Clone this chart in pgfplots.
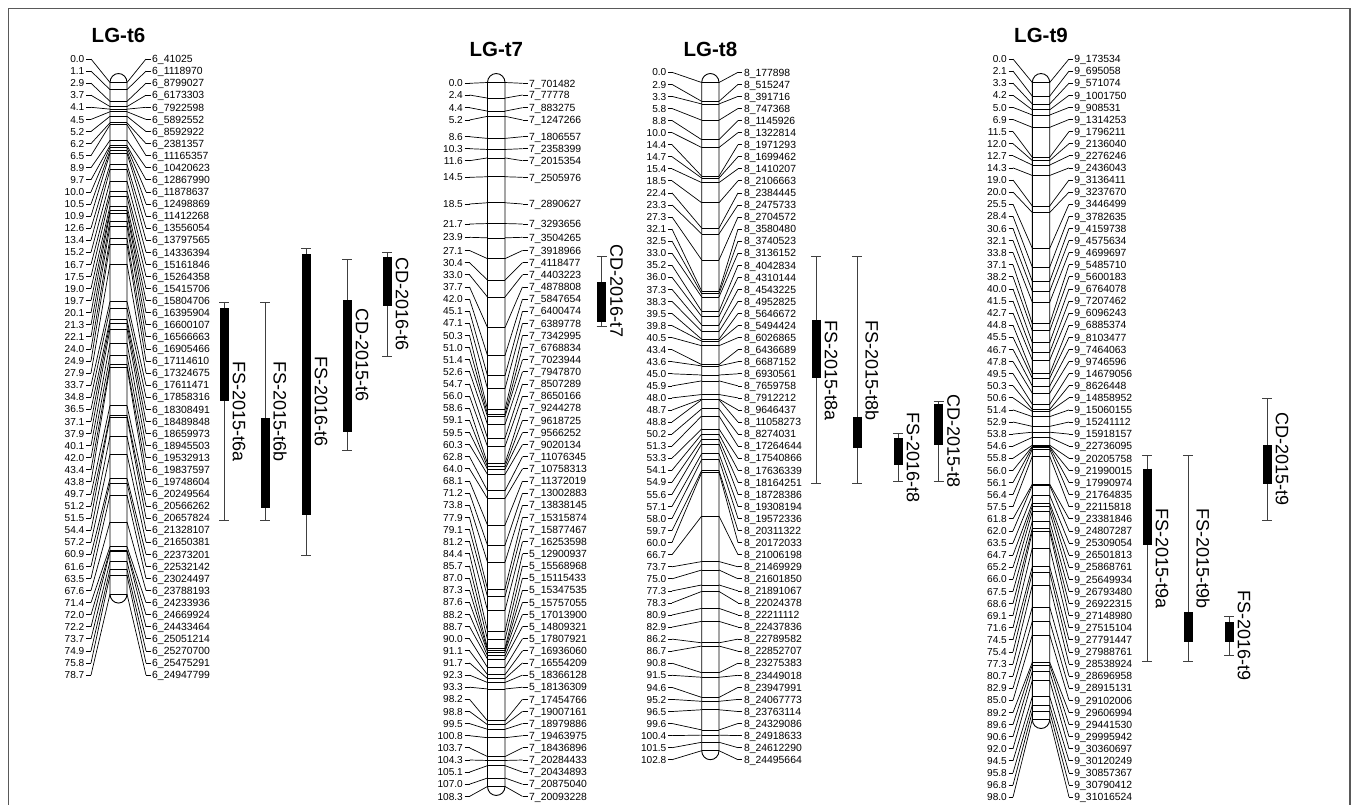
\documentclass[border=0pt]{standalone}
\usepackage{fontspec}
\setmainfont{Liberation Sans}
\usepackage{pgfplots}
\usepackage{pgfplotstable}
\pgfplotsset{compat=1.18}

% columns: cM = map position, ly = label row position (px from top), name = marker
\pgfplotstableread{
cM ly name
0.0 59.0 6\_41025
1.1 71.1 6\_1118970
2.9 83.2 6\_8799027
3.7 95.2 6\_6173303
4.1 107.3 6\_7922598
4.5 119.4 6\_5892552
5.2 131.5 6\_8592922
6.2 143.6 6\_2381357
6.5 155.6 6\_11165357
8.9 167.7 6\_10420623
9.7 179.8 6\_12867990
10.0 191.9 6\_11878637
10.5 204.0 6\_12498869
10.9 216.0 6\_11412268
12.6 228.1 6\_13556054
13.4 240.2 6\_13797565
15.2 252.3 6\_14336394
16.7 264.4 6\_15161846
17.5 276.4 6\_15264358
19.0 288.5 6\_15415706
19.7 300.6 6\_15804706
20.1 312.7 6\_16395904
21.3 324.8 6\_16600107
22.1 336.8 6\_16566663
24.0 348.9 6\_16905466
24.9 361.0 6\_17114610
27.9 373.1 6\_17324675
33.7 385.2 6\_17611471
34.8 397.2 6\_17858316
36.5 409.3 6\_18308491
37.1 421.4 6\_18489848
37.9 433.5 6\_18659973
40.1 445.6 6\_18945503
42.0 457.6 6\_19532913
43.4 469.7 6\_19837597
43.8 481.8 6\_19748604
49.7 493.9 6\_20249564
51.2 506.0 6\_20566262
51.5 518.0 6\_20657824
54.4 530.1 6\_21328107
57.2 542.2 6\_21650381
60.9 554.3 6\_22373201
61.6 566.4 6\_22532142
63.5 578.4 6\_23024497
67.6 590.5 6\_23788193
71.4 602.6 6\_24233936
72.0 614.7 6\_24669924
72.2 626.8 6\_24433464
73.7 638.8 6\_25051214
74.9 650.9 6\_25270700
75.8 663.0 6\_25475291
78.7 675.1 6\_24947799
}\tsix

\pgfplotstableread{
cM ly name
0.0 83.3 7\_701482
2.4 95.0 7\_77778
4.4 107.7 7\_883275
5.2 120.0 7\_1247266
8.6 136.7 7\_1806557
10.3 148.7 7\_2358399
11.6 160.7 7\_2015354
14.5 177.3 7\_2505976
18.5 204.0 7\_2890627
21.7 224.0 7\_3293656
23.9 237.3 7\_3504265
27.1 250.5 7\_3918966
30.4 262.6 7\_4118477
33.0 274.8 7\_4403223
37.7 286.9 7\_4878808
42.0 299.0 7\_5847654
45.1 311.2 7\_6400474
47.1 323.3 7\_6389778
50.3 335.4 7\_7342995
51.0 347.5 7\_6768834
51.4 359.7 7\_7023944
52.6 371.8 7\_7947870
54.7 383.9 7\_8507289
56.0 396.1 7\_8650166
58.6 408.2 7\_9244278
59.1 420.3 7\_9618725
59.5 432.5 7\_9566252
60.3 444.6 7\_9020134
62.8 456.7 7\_11076345
64.0 468.8 7\_10758313
68.1 481.0 7\_11372019
71.2 493.1 7\_13002883
73.8 505.2 7\_13838145
77.9 517.4 7\_15315874
79.1 529.5 7\_15877467
81.2 541.6 7\_16253598
84.4 553.8 5\_12900937
85.7 565.9 5\_15568968
87.0 578.0 5\_15115433
87.3 590.1 5\_15347535
87.6 602.3 5\_15757055
88.2 614.4 5\_17013900
88.7 626.5 5\_14809321
90.0 638.7 5\_17807921
91.1 650.8 7\_16936060
91.7 662.9 7\_16554209
92.3 675.1 5\_18366128
93.3 687.2 5\_18136309
98.2 699.3 7\_17454766
98.8 711.4 7\_19007161
99.5 723.6 7\_18979886
100.8 735.7 7\_19463975
103.7 747.8 7\_18436896
104.3 760.0 7\_20284433
105.1 772.1 7\_20434893
107.0 784.2 7\_20875040
108.3 796.4 7\_20093228
}\tseven

\pgfplotstableread{
cM ly name
0.0 72.3 8\_177898
2.9 84.4 8\_515247
3.3 96.4 8\_391716
5.8 108.5 8\_747368
8.8 120.5 8\_1145926
10.0 132.6 8\_1322814
14.4 144.7 8\_1971293
14.7 156.7 8\_1699462
15.4 168.8 8\_1410207
18.5 180.8 8\_2106663
22.4 192.9 8\_2384445
23.3 205.0 8\_2475733
27.3 217.0 8\_2704572
32.1 229.1 8\_3580480
32.5 241.1 8\_3740523
33.0 253.2 8\_3136152
35.2 265.3 8\_4042834
36.0 277.3 8\_4310144
37.3 289.4 8\_4543225
38.3 301.4 8\_4952825
39.5 313.5 8\_5646672
39.8 325.6 8\_5494424
40.5 337.6 8\_6026865
43.4 349.7 8\_6436689
43.6 361.7 8\_6687152
45.0 373.8 8\_6930561
45.9 385.9 8\_7659758
48.0 397.9 8\_7912212
48.7 410.0 8\_9646437
48.8 422.0 8\_11058273
50.2 434.1 8\_8274031
51.3 446.2 8\_17264644
53.3 458.2 8\_17540866
54.1 470.3 8\_17636339
54.9 482.3 8\_18164251
55.6 494.4 8\_18728386
57.1 506.5 8\_19308194
58.0 518.5 8\_19572336
59.7 530.6 8\_20311322
60.0 542.6 8\_20172033
66.7 554.7 8\_21006198
73.7 566.8 8\_21469929
75.0 578.8 8\_21601850
77.3 590.9 8\_21891067
78.3 602.9 8\_22024378
80.9 615.0 8\_22211112
82.9 627.1 8\_22437836
86.2 639.1 8\_22789582
86.7 651.2 8\_22852707
90.8 663.2 8\_23275383
91.5 675.3 8\_23449018
94.6 687.4 8\_23947991
95.2 699.4 8\_24067773
96.5 711.5 8\_23763114
99.6 723.5 8\_24329086
100.4 735.6 8\_24918633
101.5 747.7 8\_24612290
102.8 759.7 8\_24495664
}\teight

\pgfplotstableread{
cM ly name
0.0 59.0 9\_173534
2.1 71.1 9\_695058
3.3 83.2 9\_571074
4.2 95.3 9\_1001750
5.0 107.4 9\_908531
6.9 119.5 9\_1314253
11.5 131.6 9\_1796211
12.0 143.7 9\_2136040
12.7 155.8 9\_2276246
14.3 167.9 9\_2436043
19.0 180.0 9\_3136411
20.0 192.1 9\_3237670
25.5 204.2 9\_3446499
28.4 216.3 9\_3782635
30.6 228.4 9\_4159738
32.1 240.5 9\_4575634
33.8 252.6 9\_4699697
37.1 264.7 9\_5485710
38.2 276.8 9\_5600183
40.0 288.9 9\_6764078
41.5 301.0 9\_7207462
42.7 313.1 9\_6096243
44.8 325.2 9\_6885374
45.5 337.3 9\_8103477
46.7 349.4 9\_7464063
47.8 361.5 9\_9746596
49.5 373.6 9\_14679056
50.3 385.7 9\_8626448
50.6 397.8 9\_14858952
51.4 409.9 9\_15060155
52.9 422.0 9\_15241112
53.8 434.1 9\_15918157
54.6 446.2 9\_22736095
55.8 458.3 9\_20205758
56.0 470.4 9\_21990015
56.1 482.5 9\_17990974
56.4 494.6 9\_21764835
57.5 506.7 9\_22115818
61.8 518.8 9\_23381846
62.0 530.9 9\_24807287
63.5 543.0 9\_25309054
64.7 555.1 9\_26501813
65.2 567.2 9\_25868761
66.0 579.3 9\_25649934
67.5 591.4 9\_26793480
68.6 603.5 9\_26922315
69.1 615.6 9\_27148980
71.6 627.7 9\_27515104
74.5 639.8 9\_27791447
75.4 651.9 9\_27988761
77.3 664.0 9\_28538924
80.7 676.1 9\_28696958
82.9 688.2 9\_28915131
85.0 700.3 9\_29102006
89.2 712.4 9\_29606994
89.6 724.5 9\_29441530
90.6 736.6 9\_29995942
92.0 748.7 9\_30360697
94.5 760.8 9\_30120249
95.8 772.9 9\_30857367
96.8 785.0 9\_30790412
98.0 797.1 9\_31016524
}\tnine

% QTL: x = bar column (px), w1/w2 = interval ends (cM), b1/b2 = box ends (cM)
\pgfplotstableread{
x w1 w2 b1 b2 lab
224 33.8 67.4 34.7 49.0 FS-2015-t6a
265 33.8 67.4 51.6 65.5 FS-2015-t6b
306 25.6 72.7 26.4 66.6 FS-2016-t6
347 27.2 56.6 33.5 53.7 CD-2015-t6
387 26.1 42.2 26.8 34.4 CD-2016-t6
601.5 26.7 37.6 30.7 36.8 CD-2016-t7
816 26.8 61.7 36.5 45.4 FS-2015-t8a
857 26.8 61.7 51.4 56.3 FS-2015-t8b
898 54.0 61.3 54.7 58.8 FS-2016-t8
938.5 49.0 61.3 49.4 55.8 CD-2015-t8
1147 57.4 89.1 59.4 71.2 FS-2015-t9a
1188 57.4 89.1 81.5 86.0 FS-2015-t9b
1229 82.1 88.1 83.0 86.0 FS-2016-t9
1267 48.6 67.3 55.8 61.8 CD-2015-t9
}\qtl

\pgfplotsset{
  conn/.style={black, line width=0.7pt, -, mark=none},
  numlab/.style={draw=none, mark=none, point meta=explicit symbolic,
    nodes near coords={\pgfplotspointmeta},
    every node near coord/.append style={anchor=east, inner sep=0pt, text=black,
      font=\fontsize{10.1}{12}\selectfont, text height=7.2pt, text depth=0pt}},
  namelab/.style={draw=none, mark=none, point meta=explicit symbolic,
    nodes near coords={\pgfplotspointmeta},
    every node near coord/.append style={anchor=west, inner sep=0pt, text=black,
      font=\fontsize{10.4}{12}\selectfont, text height=7.4pt, text depth=0pt}},
  whisk/.style={black!75, line width=0.9pt, -, mark=none},
}

% #1 table, #2 left stub start, #3 left stub end, #4 chrom left, #5 chrom right,
% #6 right stub start, #7 right stub end, #8 length (cM)
\newcommand{\LG}[8]{%
  \addplot[conn, quiver={u={#3-#2}, v=0}] table[x expr=#2, y=ly] {#1};
  \addplot[conn, quiver={u={#4-#3}, v={82.5+6.5*\thisrow{cM}-\thisrow{ly}}}] table[x expr=#3, y=ly] {#1};
  \addplot[conn, quiver={u={#5-#4}, v=0}] table[x expr=#4, y expr=82.5+6.5*\thisrow{cM}] {#1};
  \addplot[conn, quiver={u={#5-#6}, v={82.5+6.5*\thisrow{cM}-\thisrow{ly}}}] table[x expr=#6, y=ly] {#1};
  \addplot[conn, quiver={u={#7-#6}, v=0}] table[x expr=#6, y=ly] {#1};
  \addplot[numlab] table[x expr=#2-1.5, y=ly, meta=cM] {#1};
  \addplot[namelab] table[x expr=#7+1.5, y=ly, meta=name] {#1};
  \draw[black, line width=0.9pt] (axis cs:#4,{82.5+6.5*#8}) -- (axis cs:#4,82.5)
    arc[start angle=180, end angle=0, x radius={(#5-#4)*0.5pt}, y radius=9pt]
    -- (axis cs:#5,{82.5+6.5*#8})
    arc[start angle=0, end angle=-180, x radius={(#5-#4)*0.5pt}, y radius=9pt] -- cycle;
}

\begin{document}
\begin{tikzpicture}
\useasboundingbox (0,0) rectangle (1358pt,804pt);
\begin{axis}[
  width=1358pt, height=804pt, scale only axis,
  xmin=0, xmax=1358, ymin=0, ymax=804, y dir=reverse,
  hide axis, clip=false,
]
% frame
\draw[black!65, line width=1.2pt] (axis cs:8.3,806) -- (axis cs:8.3,8.3) -- (axis cs:1350,8.3) -- (axis cs:1350,806);

% linkage groups
\LG{\tsix}{86}{91}{110}{127}{146}{150.5}{78.7}
\LG{\tseven}{464.5}{469.5}{487.5}{505}{522.5}{527.5}{108.3}
\LG{\teight}{668}{672}{701.7}{719}{738}{742.3}{102.8}
\LG{\tnine}{1008.5}{1013}{1032.3}{1049.7}{1069}{1072.7}{98.0}

% titles
\node[font=\bfseries\fontsize{20.5}{24}\selectfont] at (axis cs:118.5,35) {LG-t6};
\node[font=\bfseries\fontsize{20.5}{24}\selectfont] at (axis cs:496.3,49) {LG-t7};
\node[font=\bfseries\fontsize{20.5}{24}\selectfont] at (axis cs:710.4,49) {LG-t8};
\node[font=\bfseries\fontsize{20.5}{24}\selectfont] at (axis cs:1041,35) {LG-t9};

% QTL intervals
\addplot[whisk, quiver={u=0, v={6.5*(\thisrow{w2}-\thisrow{w1})}}] table[x=x, y expr=82.5+6.5*\thisrow{w1}] {\qtl};
\addplot[whisk, quiver={u=10, v=0}] table[x expr=\thisrow{x}-5, y expr=82.5+6.5*\thisrow{w1}] {\qtl};
\addplot[whisk, quiver={u=10, v=0}] table[x expr=\thisrow{x}-5, y expr=82.5+6.5*\thisrow{w2}] {\qtl};
\addplot[black, line width=9pt, -, mark=none, quiver={u=0, v={6.5*(\thisrow{b2}-\thisrow{b1})}}] table[x=x, y expr=82.5+6.5*\thisrow{b1}] {\qtl};
\addplot[draw=none, mark=none, point meta=explicit symbolic,
  nodes near coords={\pgfplotspointmeta},
  every node near coord/.append style={anchor=center, rotate=-90, inner sep=0pt, text=black,
    font=\fontsize{18}{20}\selectfont}]
  table[x expr=\thisrow{x}+15, y expr=82.5+3.25*(\thisrow{w1}+\thisrow{w2}), meta=lab] {\qtl};
\end{axis}
\end{tikzpicture}
\end{document}
